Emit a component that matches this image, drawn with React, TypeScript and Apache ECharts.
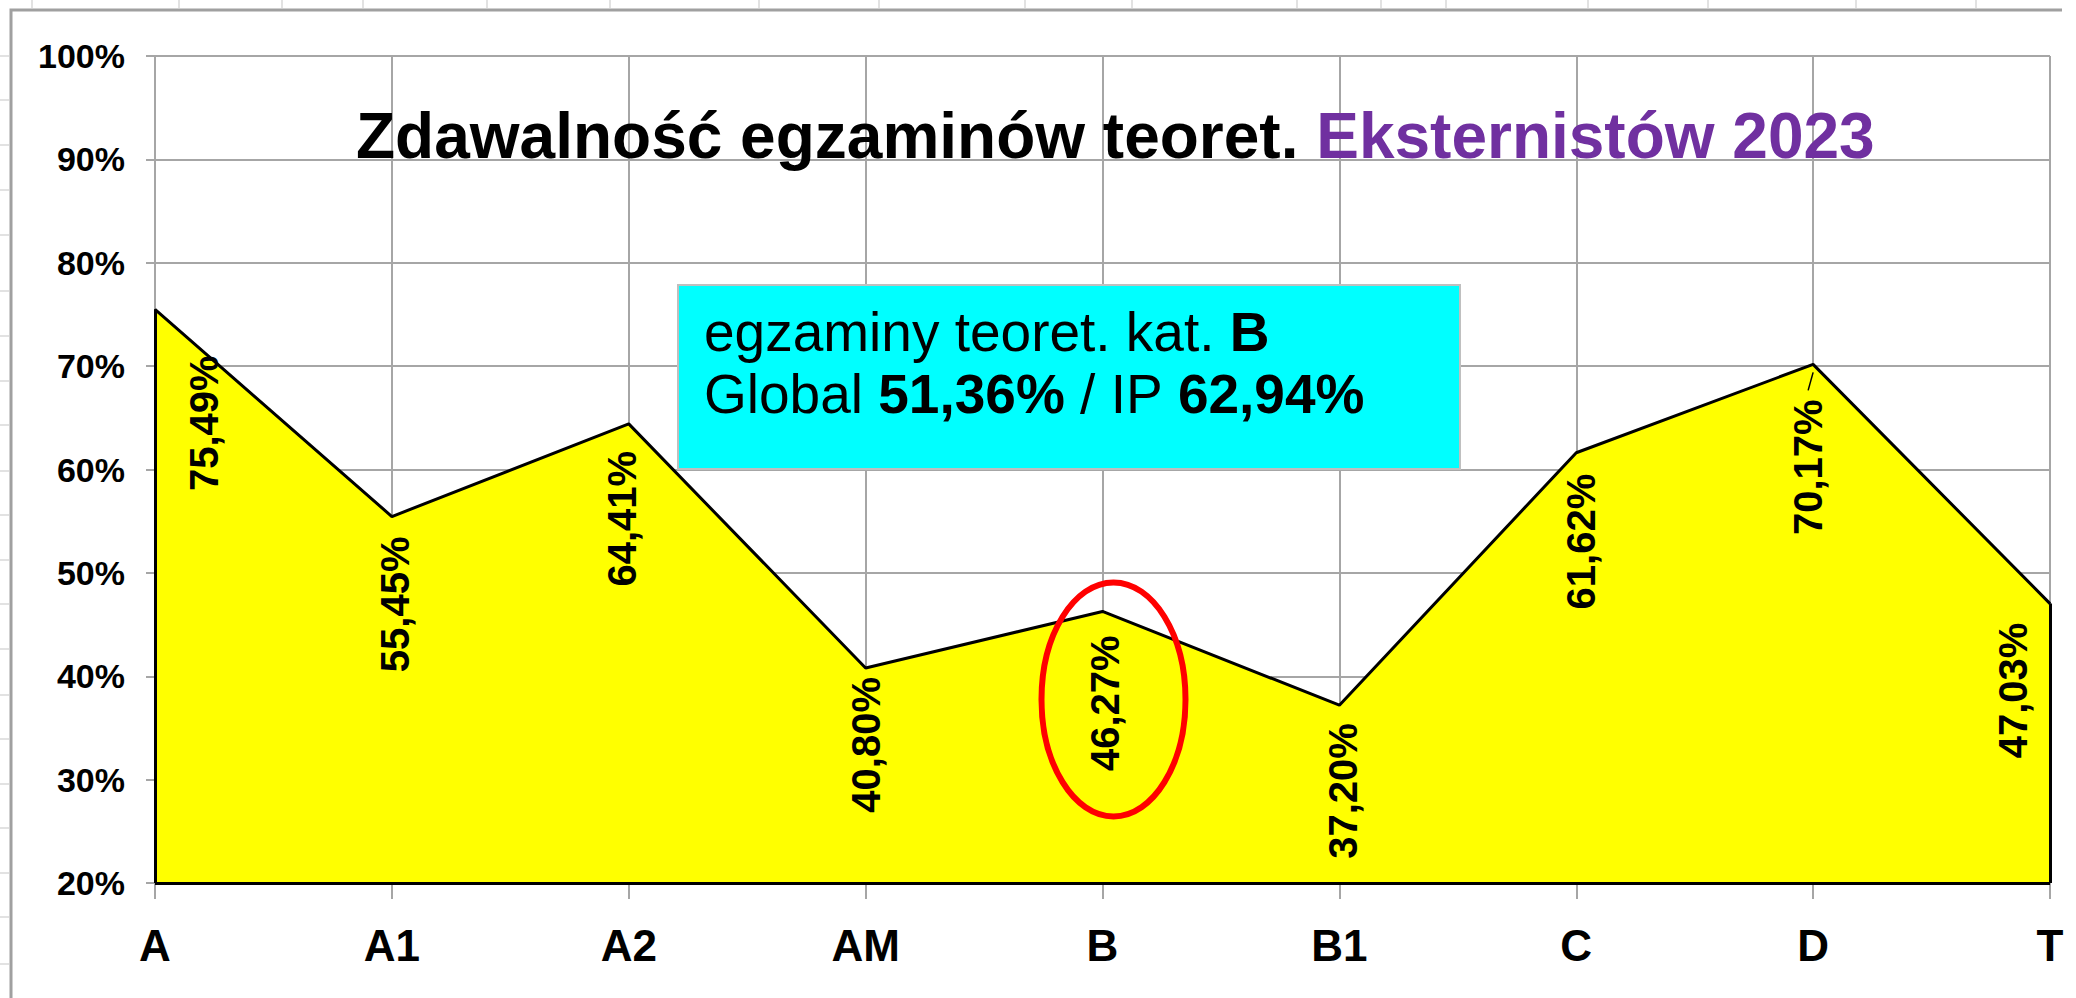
import React, { useEffect, useRef } from 'react';
import * as echarts from 'echarts';

const categories = ['A', 'A1', 'A2', 'AM', 'B', 'B1', 'C', 'D', 'T'];
const passRates = [75.49, 55.45, 64.41, 40.8, 46.27, 37.2, 61.62, 70.17, 47.03];
const yMin = 20;
const yMax = 100;
const yStep = 10;
const titleMain = 'Zdawalność egzaminów teoret. ';
const titleAccent = 'Eksternistów 2023';
const boxLine1 = 'egzaminy teoret. kat. ';
const boxCategory = 'B';
const globalLabel = 'Global ';
const globalRate = '51,36%';
const ipLabel = ' / IP ';
const ipRate = '62,94%';
const highlightedCategory = 'B';

// label placement nudges (pixels, style only): [dx, gap below point]
const labelNudge = [
  [49, 46], [3, 20], [-7, 27], [0, 9], [2, 24], [4, 18], [5, 21], [-5, 35], [-37, 19],
];

const FONT = "'Liberation Sans', Arial, Helvetica, sans-serif";
const GRID_COLOR = '#A6A6A6';

const fmt = (v: number) => v.toFixed(2).replace('.', ',') + '%';

export default function App() {
  const ref = useRef<HTMLDivElement>(null);

  useEffect(() => {
    if (!ref.current) return;
    const chart = echarts.init(ref.current, undefined, { renderer: 'svg' });
    const last = categories.length - 1;

    chart.setOption({
      animation: false,
      backgroundColor: '#FFFFFF',
      title: {
        left: 356,
        top: 104,
        padding: 0,
        text: `{a|${titleMain}}{b|${titleAccent}}`,
        textStyle: {
          rich: {
            a: { fontFamily: FONT, fontWeight: 'bold', fontSize: 64, color: '#000000' },
            b: { fontFamily: FONT, fontWeight: 'bold', fontSize: 64, color: '#7030A0' },
          },
        },
      },
      grid: { left: 155, right: 26, top: 56, bottom: 115, containLabel: false },
      xAxis: {
        type: 'category',
        data: categories,
        boundaryGap: false,
        axisLine: { show: true, lineStyle: { color: GRID_COLOR, width: 2 } },
        axisTick: { show: true, length: 16, lineStyle: { color: GRID_COLOR, width: 2 } },
        splitLine: { show: true, lineStyle: { color: GRID_COLOR, width: 2 } },
        axisLabel: {
          margin: 40,
          fontFamily: FONT,
          fontWeight: 'bold',
          fontSize: 44,
          color: '#000000',
        },
      },
      yAxis: {
        type: 'value',
        min: yMin,
        max: yMax,
        interval: yStep,
        axisLine: { show: true, lineStyle: { color: GRID_COLOR, width: 2 } },
        axisTick: { show: true, length: 9, lineStyle: { color: GRID_COLOR, width: 2 } },
        splitLine: { show: true, lineStyle: { color: GRID_COLOR, width: 2 } },
        axisLabel: {
          margin: 30,
          fontFamily: FONT,
          fontWeight: 'bold',
          fontSize: 34,
          color: '#000000',
          formatter: '{value}%',
        },
      },
      series: [
        {
          type: 'line',
          data: passRates.map((v, i) => ({
            value: v,
            label: { position: [0.5 + labelNudge[i][0], 0.5 + labelNudge[i][1]] },
          })),
          symbol: 'circle',
          symbolSize: 1,
          showSymbol: true,
          itemStyle: { color: '#000000' },
          lineStyle: { color: '#000000', width: 3 },
          areaStyle: { color: '#FFFF00', opacity: 1 },
          emphasis: { disabled: true },
          label: {
            show: true,
            rotate: 90,
            align: 'right',
            verticalAlign: 'middle',
            fontFamily: FONT,
            fontWeight: 'bold',
            fontSize: 40,
            color: '#000000',
            formatter: (p: any) => fmt(p.value),
          },
          markLine: {
            silent: true,
            symbol: ['none', 'none'],
            label: { show: false },
            lineStyle: { color: '#000000', width: 3, type: 'solid' },
            emphasis: { disabled: true },
            data: [
              [{ coord: [categories[0], yMin] }, { coord: [categories[0], passRates[0]] }],
              [{ coord: [categories[last], yMin] }, { coord: [categories[last], passRates[last]] }],
              [{ coord: [categories[0], yMin] }, { coord: [categories[last], yMin] }],
            ],
          },
        },
      ],
    });

    const hiIdx = categories.indexOf(highlightedCategory);
    const hp = chart.convertToPixel({ seriesIndex: 0 }, [hiIdx, passRates[hiIdx]]) as number[];
    const dIdx = categories.indexOf('D');
    const dp = chart.convertToPixel({ seriesIndex: 0 }, [dIdx, passRates[dIdx]]) as number[];

    const colXs = [32, 179, 282, 363, 487, 610, 759, 879, 1025, 1132, 1297, 1381, 1446, 1588, 1708, 1856, 1976];
    const rowYs = [56, 100, 145, 190, 235, 291, 336, 381, 425, 471, 515, 560, 604, 649, 695, 739, 784, 828, 873, 917, 964];

    const bgLines: any[] = [];
    colXs.forEach((x) =>
      bgLines.push({
        type: 'line',
        silent: true,
        z: -10,
        shape: { x1: x, y1: 0, x2: x, y2: 8 },
        style: { stroke: '#D9D9D9', lineWidth: 1.5 },
      })
    );
    rowYs.forEach((y) =>
      bgLines.push({
        type: 'line',
        silent: true,
        z: -10,
        shape: { x1: 0, y1: y, x2: 9, y2: y },
        style: { stroke: '#D9D9D9', lineWidth: 1.5 },
      })
    );

    chart.setOption({
      graphic: [
        ...bgLines,
        {
          type: 'polyline',
          silent: true,
          z: -5,
          shape: { points: [[11, 998], [11, 10], [2062, 10]] },
          style: { stroke: '#A0A0A0', lineWidth: 3, fill: 'none' },
        },
        {
          type: 'line',
          silent: true,
          z: 12,
          shape: { x1: dp[0], y1: dp[1] + 8, x2: dp[0] - 5, y2: dp[1] + 26 },
          style: { stroke: '#000000', lineWidth: 1.5 },
        },
        {
          type: 'rect',
          silent: true,
          z: 10,
          shape: { x: 678, y: 285, width: 782, height: 184 },
          style: { fill: '#00FFFF', stroke: '#BFBFBF', lineWidth: 2 },
        },
        {
          type: 'text',
          silent: true,
          z: 11,
          x: 704,
          y: 301,
          style: {
            text:
              `{n|${boxLine1}}{b|${boxCategory}}\n` +
              `{n|${globalLabel}}{b|${globalRate}}{n|${ipLabel}}{b|${ipRate}}`,
            rich: {
              n: { fontFamily: FONT, fontSize: 55, fontWeight: 'normal', fill: '#000000', lineHeight: 62 },
              b: { fontFamily: FONT, fontSize: 55, fontWeight: 'bold', fill: '#000000', lineHeight: 62 },
            },
          },
        },
        {
          type: 'ellipse',
          silent: true,
          z: 12,
          shape: { cx: hp[0] + 11, cy: hp[1] + 88, rx: 72, ry: 117 },
          style: { fill: 'none', stroke: '#FF0000', lineWidth: 6 },
        },
      ],
    });

    return () => chart.dispose();
  }, []);

  return (
    <div
      ref={ref}
      style={{ position: 'fixed', left: 0, top: 0, width: 2076, height: 998, background: '#FFFFFF' }}
    />
  );
}
